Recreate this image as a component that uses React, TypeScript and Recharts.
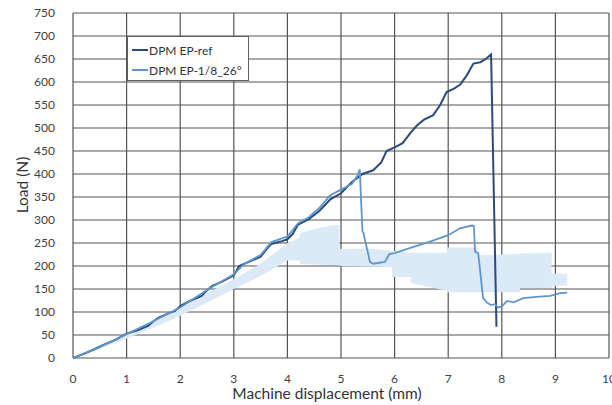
import React from 'react';
import { ComposedChart, Line, Area, XAxis, YAxis, CartesianGrid, Legend } from 'recharts';

// machine displacement (mm) vs load (N)
const refCurve: [number, number][] = [
  [0, 0], [0.2, 9], [0.4, 19], [0.6, 30], [0.8, 40], [1.0, 53], [1.2, 60], [1.4, 70],
  [1.5, 80], [1.6, 88], [1.8, 98], [1.9, 102], [2.0, 113], [2.2, 125], [2.4, 135],
  [2.5, 147], [2.6, 157], [2.8, 167], [3.0, 180], [3.1, 200], [3.3, 210], [3.5, 220],
  [3.6, 235], [3.7, 248], [3.9, 254], [4.0, 258], [4.1, 270], [4.2, 290], [4.4, 302],
  [4.6, 320], [4.8, 345], [5.0, 358], [5.2, 382], [5.4, 400], [5.6, 408], [5.75, 425],
  [5.85, 450], [6.0, 458], [6.15, 467], [6.3, 490], [6.42, 506], [6.55, 518],
  [6.72, 528], [6.85, 550], [6.97, 578], [7.1, 585], [7.22, 594], [7.35, 615],
  [7.47, 640], [7.6, 643], [7.7, 650], [7.8, 660], [7.9, 68],
];

const altCurve: [number, number][] = [
  [0, 0], [0.5, 24], [1.0, 52], [1.5, 80], [2.0, 110], [2.5, 148], [3.0, 182],
  [3.2, 205], [3.5, 224], [3.7, 252], [4.0, 264], [4.2, 293], [4.4, 306], [4.6, 327],
  [4.8, 354], [5.0, 366], [5.2, 378], [5.3, 395], [5.35, 410], [5.4, 275], [5.42, 272],
  [5.44, 260], [5.5, 230], [5.54, 209], [5.6, 205], [5.82, 209], [5.9, 226], [6.0, 228],
  [6.28, 239], [6.66, 253], [7.0, 267], [7.22, 282], [7.44, 288], [7.48, 287],
  [7.5, 231], [7.56, 228], [7.65, 130], [7.74, 119], [7.8, 115], [7.87, 117],
  [7.93, 110], [8.0, 112], [8.1, 124], [8.22, 121], [8.4, 130], [8.65, 133],
  [8.9, 135], [9.09, 141], [9.22, 142],
];

// shaded envelope: [x, low, high]
const bandCurve: [number, number, number][] = [
  [0, 0, 0], [0.5, 20, 27], [1.0, 42, 52], [1.5, 66, 78], [2.0, 92, 108],
  [2.5, 120, 140], [3.0, 150, 172], [3.5, 178, 205], [4.0, 212, 250], [4.23, 212, 262],
  [4.23, 204, 272], [4.5, 203, 280], [4.8, 202, 288], [4.97, 202, 289], [4.97, 200, 237],
  [5.5, 199, 238], [5.95, 198, 233], [5.95, 176, 233], [6.3, 176, 229], [6.3, 163, 229],
  [6.98, 146, 229], [6.98, 143, 240], [7.55, 143, 240], [7.55, 143, 224],
  [8.34, 143, 226], [8.34, 152, 227], [8.93, 152, 228], [8.93, 157, 183], [9.22, 157, 183],
];

const xTicks = [0, 1, 2, 3, 4, 5, 6, 7, 8, 9, 10];
const yTicks = [0, 50, 100, 150, 200, 250, 300, 350, 400, 450, 500, 550, 600, 650, 700, 750];

const refData = refCurve.map(([x, y]) => ({ x, y }));
const altData = altCurve.map(([x, y]) => ({ x, y }));
const bandData = bandCurve.map(([x, low, high]) => ({ x, range: [low, high] }));

const font = 'Lato, "Open Sans", sans-serif';
const darkBlue = '#2a4a78';
const lightBlue = '#5f96cd';

const LegendBox = () => (
  <div
    style={{
      width: 122,
      height: 45,
      background: '#fff',
      border: '1px solid #5f5f5f',
      boxSizing: 'border-box',
      fontFamily: font,
      fontSize: 12,
      color: '#333',
      padding: '3px 0 0 4px',
    }}
  >
    {[
      { name: 'DPM EP-ref', color: darkBlue },
      { name: 'DPM EP-1/8_26°', color: lightBlue },
    ].map((item) => (
      <div key={item.name} style={{ display: 'flex', alignItems: 'center', height: 20, whiteSpace: 'nowrap' }}>
        <span style={{ width: 16, height: 2, background: item.color, marginRight: 1, flexShrink: 0 }} />
        <span>{item.name}</span>
      </div>
    ))}
  </div>
);

const App: React.FC = () => {
  return (
    <div style={{ position: 'absolute', left: 0, top: 0, width: 612, height: 405, overflow: 'hidden', background: '#fff' }}>
      <ComposedChart width={630} height={405} margin={{ top: 13, right: 21, bottom: 0, left: 0 }}>
        <CartesianGrid stroke="#555" strokeWidth={1.2} />
        <XAxis
          type="number"
          dataKey="x"
          domain={[0, 10]}
          ticks={xTicks}
          axisLine={false}
          tickLine={false}
          tickMargin={10}
          height={47}
          tick={{ fontFamily: font, fontSize: 12, fill: '#404040' }}
          allowDataOverflow
        />
        <YAxis
          type="number"
          domain={[0, 750]}
          ticks={yTicks}
          axisLine={false}
          tickLine={false}
          tickMargin={12}
          width={73}
          tick={{ fontFamily: font, fontSize: 12, fill: '#404040' }}
          interval={0}
        />
        <Area
          data={bandData}
          dataKey="range"
          type="linear"
          stroke="none"
          fill="#dce9f6"
          fillOpacity={1}
          isAnimationActive={false}
          legendType="none"
        />
        <Line
          data={refData}
          dataKey="y"
          name="DPM EP-ref"
          type="linear"
          stroke={darkBlue}
          strokeWidth={2}
          dot={false}
          isAnimationActive={false}
        />
        <Line
          data={altData}
          dataKey="y"
          name="DPM EP-1/8_26°"
          type="linear"
          stroke={lightBlue}
          strokeWidth={1.8}
          dot={false}
          isAnimationActive={false}
        />
        <Legend
          content={<LegendBox />}
          layout="vertical"
          align="center"
          verticalAlign="middle"
          wrapperStyle={{ left: 127, top: 36, width: 122 }}
        />
      </ComposedChart>
      <div
        style={{
          position: 'absolute',
          left: 22,
          top: 185,
          transform: 'translate(-50%, -50%) rotate(-90deg)',
          fontFamily: font,
          fontSize: 15.5,
          color: '#333',
          whiteSpace: 'nowrap',
        }}
      >
        Load (N)
      </div>
      <div
        style={{
          position: 'absolute',
          left: 327,
          top: 393,
          transform: 'translate(-50%, -50%)',
          fontFamily: font,
          fontSize: 15.5,
          color: '#333',
          whiteSpace: 'nowrap',
        }}
      >
        Machine displacement (mm)
      </div>
    </div>
  );
};

export default App;
